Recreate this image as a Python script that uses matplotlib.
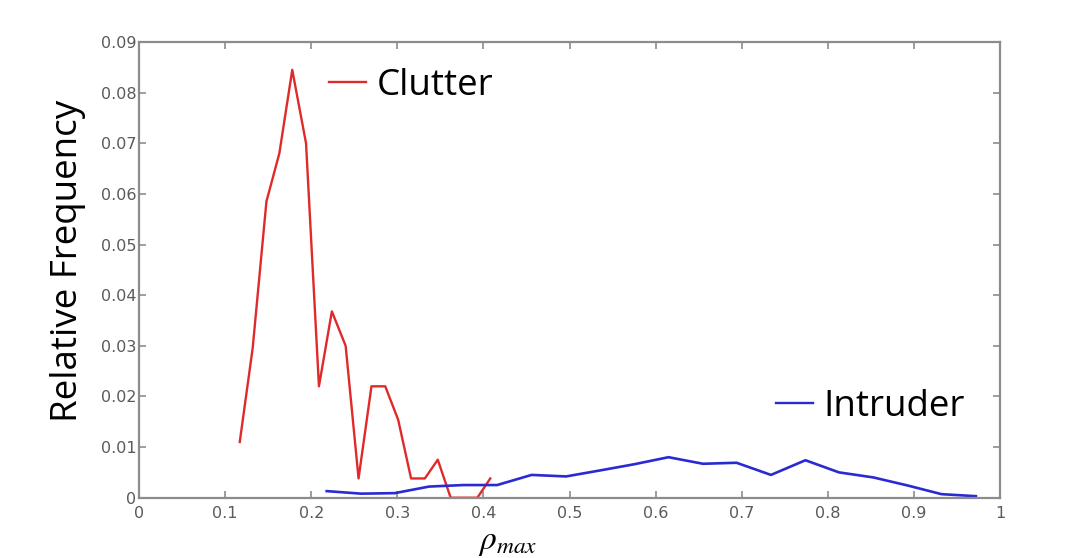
import matplotlib
matplotlib.use("Agg")
import matplotlib.pyplot as plt
from matplotlib.lines import Line2D

# Data
clutter_x = [0.117, 0.132, 0.148, 0.163, 0.178, 0.194, 0.209, 0.224, 0.240, 0.255,
             0.270, 0.286, 0.301, 0.316, 0.332, 0.347, 0.362, 0.378, 0.393, 0.408]
clutter_y = [0.0110, 0.0295, 0.0585, 0.0680, 0.0845, 0.0700, 0.0220, 0.0368, 0.0300, 0.0038,
             0.0220, 0.0220, 0.0154, 0.0038, 0.0038, 0.0075, 0.0000, 0.0000, 0.0000, 0.0038]

intruder_x = [0.218, 0.258, 0.297, 0.337, 0.377, 0.416, 0.456, 0.496, 0.536, 0.575,
              0.615, 0.655, 0.694, 0.734, 0.774, 0.813, 0.853, 0.893, 0.932, 0.972]
intruder_y = [0.0013, 0.0008, 0.0009, 0.0022, 0.0025, 0.0025, 0.0045, 0.0042, 0.0054, 0.0066,
              0.0080, 0.0067, 0.0069, 0.0045, 0.0074, 0.0050, 0.0040, 0.0024, 0.0007, 0.0003]

x_ticks = [0, 0.1, 0.2, 0.3, 0.4, 0.5, 0.6, 0.7, 0.8, 0.9, 1]
x_tick_labels = ["0", "0.1", "0.2", "0.3", "0.4", "0.5", "0.6", "0.7", "0.8", "0.9", "1"]
y_ticks = [0, 0.01, 0.02, 0.03, 0.04, 0.05, 0.06, 0.07, 0.08, 0.09]
y_tick_labels = ["0", "0.01", "0.02", "0.03", "0.04", "0.05", "0.06", "0.07", "0.08", "0.09"]

W, H = 1066, 558
fig = plt.figure(figsize=(W / 100, H / 100), dpi=100)
ax = fig.add_axes([139 / W, 1 - 497.7 / H, (1000 - 139) / W, (497.7 - 42) / H])

red = "#e02a2a"
blue = "#2a2ad2"
ax.plot(clutter_x, clutter_y, color=red, lw=1.7)
ax.plot(intruder_x, intruder_y, color=blue, lw=1.9)

ax.set_xlim(0, 1)
ax.set_ylim(0, 0.09)
ax.set_xticks(x_ticks)
ax.set_xticklabels(x_tick_labels)
ax.set_yticks(y_ticks)
ax.set_yticklabels(y_tick_labels)

spine_col = "#8c8c8c"
for s in ax.spines.values():
    s.set_color(spine_col)
    s.set_linewidth(1.6)
ax.tick_params(direction="in", length=5, width=1.2, color=spine_col,
               top=True, right=True, labelcolor="#5a5a5a", labelsize=11.5)
ax.tick_params(axis="x", pad=6)
ax.tick_params(axis="y", pad=2)
for lab in ax.get_xticklabels() + ax.get_yticklabels():
    lab.set_fontfamily("DejaVu Sans")

ax.set_ylabel("Relative Frequency", fontsize=26.5, fontfamily="Open Sans")
ax.yaxis.set_label_coords(-0.061, 0.52)

# x label at the bottom edge of the figure
fig.text(508 / W, 0.5 / H, r"$\rho_{max}$", fontsize=24, ha="center", va="bottom",
         math_fontfamily="stix")

leg_font = {"family": "Open Sans", "size": 26.5}
h1 = Line2D([], [], color=red, lw=1.7)
h2 = Line2D([], [], color=blue, lw=1.7)
leg1 = fig.legend([h1], ["Clutter"], loc="center left",
                  bbox_to_anchor=(329 / W, 1 - 86 / H), frameon=False, prop=leg_font,
                  borderpad=0, borderaxespad=0, handlelength=1.0, handletextpad=0.3)
leg2 = fig.legend([h2], ["Intruder"], loc="center left",
                  bbox_to_anchor=(776 / W, 1 - 407 / H), frameon=False, prop=leg_font,
                  borderpad=0, borderaxespad=0, handlelength=1.0, handletextpad=0.3)

fig.savefig("out.png", dpi=100, facecolor="white")
